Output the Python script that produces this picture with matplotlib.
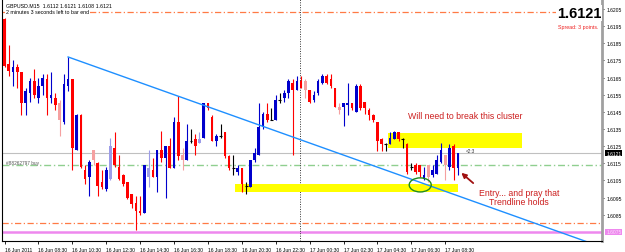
import matplotlib.pyplot as plt
from matplotlib.patches import Rectangle, Ellipse

# GBPUSD M15, 16 Jun 2011 06:30 -> 17 Jun 2011 09:15
opens = [1.6199, 1.6173, 1.6168, 1.6171, 1.6168, 1.6150, 1.6156, 1.6163, 1.6153, 1.6160, 1.6164, 1.6153,
         1.6153, 1.6150, 1.6139, 1.6160, 1.6164, 1.6123, 1.6143, 1.6111, 1.6107, 1.6123, 1.6115, 1.6104,
         1.6100, 1.6106, 1.6124, 1.6113, 1.6108, 1.6104, 1.6097, 1.6092, 1.6087, 1.6086, 1.6107, 1.6111,
         1.6107, 1.6123, 1.6118, 1.6125, 1.6112, 1.6139, 1.6120, 1.6117, 1.6128, 1.6129, 1.6127, 1.6130,
         1.6150, 1.6142, 1.6128, 1.6131, 1.6133, 1.6119, 1.6112, 1.6110, 1.6112, 1.6102, 1.6101, 1.6117,
         1.6120, 1.6136, 1.6144, 1.6140, 1.6140, 1.6152, 1.6153, 1.6156, 1.6162, 1.6158, 1.6163, 1.6163,
         1.6158, 1.6152, 1.6156, 1.6162, 1.6166, 1.6164, 1.6159, 1.6148, 1.6148, 1.6149, 1.6150, 1.6145,
         1.6160, 1.6151, 1.6146, 1.6143, 1.6139, 1.6129, 1.6126, 1.6126, 1.6129, 1.6133, 1.6129, 1.6126,
         1.6113, 1.6114, 1.6114, 1.6106, 1.6114, 1.6108, 1.6109, 1.6116, 1.6120, 1.6113, 1.6125, 1.6112]
highs = [1.6200, 1.6184, 1.6175, 1.6173, 1.6168, 1.6159, 1.6165, 1.6170, 1.6165, 1.6167, 1.6167, 1.6168,
         1.6156, 1.6152, 1.6167, 1.6177, 1.6164, 1.6144, 1.6144, 1.6114, 1.6117, 1.6123, 1.6116, 1.6111,
         1.6113, 1.6130, 1.6133, 1.6120, 1.6109, 1.6104, 1.6097, 1.6096, 1.6096, 1.6114, 1.6123, 1.6118,
         1.6123, 1.6134, 1.6125, 1.6130, 1.6142, 1.6154, 1.6124, 1.6138, 1.6135, 1.6132, 1.6133, 1.6150,
         1.6150, 1.6143, 1.6132, 1.6138, 1.6133, 1.6120, 1.6120, 1.6114, 1.6112, 1.6104, 1.6117, 1.6124,
         1.6150, 1.6145, 1.6150, 1.6147, 1.6155, 1.6156, 1.6158, 1.6164, 1.6164, 1.6166, 1.6166, 1.6164,
         1.6158, 1.6157, 1.6164, 1.6167, 1.6167, 1.6167, 1.6159, 1.6150, 1.6150, 1.6162, 1.6150, 1.6161,
         1.6161, 1.6151, 1.6147, 1.6144, 1.6139, 1.6130, 1.6127, 1.6133, 1.6134, 1.6133, 1.6130, 1.6127,
         1.6115, 1.6115, 1.6114, 1.6113, 1.6114, 1.6114, 1.6120, 1.6127, 1.6120, 1.6126, 1.6126, 1.6121]
lows = [1.6171, 1.6166, 1.6160, 1.6159, 1.6143, 1.6143, 1.6151, 1.6153, 1.6150, 1.6155, 1.6143, 1.6150,
        1.6146, 1.6131, 1.6138, 1.6157, 1.6111, 1.6123, 1.6112, 1.6103, 1.6096, 1.6114, 1.6096, 1.6100,
        1.6099, 1.6105, 1.6113, 1.6105, 1.6102, 1.6094, 1.6089, 1.6076, 1.6085, 1.6086, 1.6101, 1.6107,
        1.6098, 1.6116, 1.6095, 1.6112, 1.6112, 1.6117, 1.6111, 1.6117, 1.6127, 1.6120, 1.6127, 1.6130,
        1.6146, 1.6128, 1.6125, 1.6130, 1.6118, 1.6111, 1.6108, 1.6108, 1.6098, 1.6097, 1.6101, 1.6116,
        1.6120, 1.6135, 1.6139, 1.6140, 1.6140, 1.6150, 1.6151, 1.6153, 1.6120, 1.6158, 1.6159, 1.6153,
        1.6150, 1.6151, 1.6155, 1.6161, 1.6161, 1.6159, 1.6148, 1.6144, 1.6137, 1.6143, 1.6146, 1.6145,
        1.6146, 1.6144, 1.6140, 1.6139, 1.6122, 1.6122, 1.6122, 1.6126, 1.6129, 1.6128, 1.6124, 1.6109,
        1.6111, 1.6109, 1.6107, 1.6105, 1.6104, 1.6107, 1.6109, 1.6115, 1.6105, 1.6111, 1.6105, 1.6108]
closes = [1.6172, 1.6169, 1.6171, 1.6168, 1.6150, 1.6157, 1.6163, 1.6155, 1.6160, 1.6165, 1.6153, 1.6155,
          1.6149, 1.6140, 1.6161, 1.6164, 1.6124, 1.6143, 1.6113, 1.6106, 1.6116, 1.6117, 1.6102, 1.6101,
          1.6111, 1.6125, 1.6114, 1.6106, 1.6103, 1.6095, 1.6091, 1.6087, 1.6086, 1.6114, 1.6112, 1.6107,
          1.6123, 1.6118, 1.6125, 1.6112, 1.6139, 1.6119, 1.6117, 1.6128, 1.6128, 1.6125, 1.6129, 1.6150,
          1.6147, 1.6128, 1.6131, 1.6131, 1.6119, 1.6112, 1.6112, 1.6112, 1.6103, 1.6102, 1.6117, 1.6121,
          1.6136, 1.6144, 1.6140, 1.6140, 1.6152, 1.6152, 1.6156, 1.6163, 1.6158, 1.6163, 1.6159, 1.6158,
          1.6151, 1.6155, 1.6163, 1.6166, 1.6162, 1.6160, 1.6148, 1.6146, 1.6150, 1.6150, 1.6147, 1.6160,
          1.6147, 1.6147, 1.6143, 1.6140, 1.6128, 1.6126, 1.6126, 1.6130, 1.6133, 1.6129, 1.6129, 1.6110,
          1.6113, 1.6110, 1.6110, 1.6108, 1.6107, 1.6111, 1.6117, 1.6123, 1.6114, 1.6124, 1.6112, 1.6121]
faded = [13, 21, 25, 34, 42, 46, 71, 79, 100, 104]

time_labels = ["16 Jun 2011", "16 Jun 08:30", "16 Jun 10:30", "16 Jun 12:30", "16 Jun 14:30",
               "16 Jun 16:30", "16 Jun 18:30", "16 Jun 20:30", "16 Jun 22:30", "17 Jun 00:30",
               "17 Jun 02:30", "17 Jun 04:30", "17 Jun 06:30", "17 Jun 08:30"]
price_ticks = [1.6205, 1.6195, 1.6185, 1.6175, 1.6165, 1.6155, 1.6145, 1.6135,
               1.6125, 1.6115, 1.6105, 1.6095, 1.6085]

bid = 1.6121
order_price = 1.6114
stop_lines = [1.6203, 1.6080]
pink_level = 1.6075
day_sep = 69.8
trend_x = [15, 140]
trend_y = [1.6177, 1.6067]
cluster_box = [90.6, 122.1, 1.61239, 1.61327]
support_box = [54.35, 107.06, 1.60983, 1.61030]

small = ['Liberation Sans', 'DejaVu Sans']

fig = plt.figure(figsize=(6.25, 2.53), dpi=100)
ax = fig.add_axes([2/625, 11/253, 600/625, 242/253])
ax.set_xlim(-0.6, 141)
ax.set_ylim(1.60697, 1.62108)

# zones
for b in [cluster_box, support_box]:
    ax.add_patch(Rectangle((b[0], b[2]), b[1]-b[0], b[3]-b[2], color='#ffff00', lw=0, zorder=1))

# levels
ax.axhline(bid, color='#c0c0c0', lw=0.8, zorder=0.5)
ax.axhline(order_price, color='#8fcf8f', lw=1, ls=(0, (5, 2, 1, 2)), zorder=0.5)
for s in stop_lines:
    ax.axhline(s, color='#ff7a45', lw=0.9, ls=(0, (5, 2, 1, 2)), zorder=0.5)
ax.axhline(pink_level, color='#ee88ee', lw=1.8, zorder=0.5)
ax.axvline(day_sep, color='#333333', lw=0.7, ls=(0, (1, 1.5)), zorder=0.5)

# candles
for i in range(len(opens)):
    o, h, l, c = opens[i], highs[i], lows[i], closes[i]
    if c > o:
        col = '#0000cc'
        if i in faded:
            col = '#9c9ce8'
    elif c < o:
        col = '#ff0000'
        if i in faded:
            col = '#f5a0a0'
    else:
        col = '#000000'
    ax.vlines(i, l, h, color=col, lw=0.8, zorder=3)
    if c == o:
        ax.hlines(c, i - 0.35, i + 0.35, color=col, lw=0.8, zorder=3)
    else:
        ax.bar(i, abs(c - o), 0.62, bottom=min(o, c), color=col, lw=0, zorder=3)

# trendline
ax.plot(trend_x, trend_y, color='#1e8fff', lw=1, zorder=4)

# circle and arrow
ax.add_patch(Ellipse((98.1, 1.61024), 5.2, 0.00082, fill=False, ec='#1f8b1f', lw=1, zorder=5))
ax.annotate('', xy=(107.3, 1.61105), xytext=(111.1, 1.61024),
            arrowprops=dict(arrowstyle='-|>', color='#a01010', lw=1.3, mutation_scale=7), zorder=5)

ax.text(108.7, 1.61426, 'Will need to break this cluster', color='#cc1f1f', fontsize=6.3,
        family='Liberation Sans', ha='center', va='center')
ax.text(121.4, 1.60954, 'Entry... and pray that\nTrendline holds', color='#cc1f1f', fontsize=6.3,
        family='Liberation Sans', ha='center', va='center', linespacing=1.1)
ax.text(108.8, 1.6121, '<2:3', fontsize=3.3, family=small, color='#333333', ha='left', va='bottom')
ax.text(0.4, order_price + 0.00003, '#88262797 buy', fontsize=3.4, family=small, color='#555555',
        ha='left', va='bottom')

# axes styling
ax.spines['top'].set_visible(False)
ax.spines['left'].set_color('black')
ax.spines['bottom'].set_color('black')
ax.spines['right'].set_color('#a0a0a0')
ax.spines['right'].set_linewidth(2)

ax.yaxis.tick_right()
ax.set_yticks(price_ticks)
ax.set_yticklabels(['%.4f' % p for p in price_ticks], fontsize=3.6, family=small)
ax.tick_params(axis='y', length=1.5, width=0.6, pad=1.5, direction='out')

ax.set_xticks(range(0, 8 * len(time_labels), 8))
ax.set_xticklabels(time_labels, fontsize=3.6, family=small, ha='left')
ax.tick_params(axis='x', length=2.5, width=0.6, pad=1.5, direction='out')

ytr = ax.get_yaxis_transform()
ax.text(1.007, bid, '%.4f' % bid, transform=ytr, fontsize=3.6, family=small, color='white',
        va='center', ha='left', bbox=dict(fc='black', ec='none', pad=0.6), clip_on=False)
ax.text(1.007, pink_level, '%.4f' % pink_level, transform=ytr, fontsize=3.6, family=small,
        color='#fbe0fb', va='center', ha='left', bbox=dict(fc='#ee88ee', ec='none', pad=0.6),
        clip_on=False)

# header texts (MT4 draws them over a white background)
wbox = dict(fc='white', ec='none', pad=0.8)
fig.text(6/625, 1 - 6/253, 'GBPUSD,M15  1.6112 1.6121 1.6108 1.6121', fontsize=3.8, family=small,
         va='center', ha='left', bbox=wbox)
fig.text(6/625, 1 - 13/253, '2 minutes 3 seconds left to bar end', fontsize=3.8, family=small,
         va='center', ha='left', bbox=wbox)
fig.text(601/625, 1 - 14/253, '1.6121', fontsize=10.5, weight='bold', family=small,
         va='center', ha='right', bbox=dict(fc='white', ec='none', pad=0.5))
fig.text(598/625, 1 - 28/253, 'Spread: 3 points.', fontsize=3.8, family=small, color='#ee2020',
         va='center', ha='right')

fig.savefig('out.png', dpi=100)
